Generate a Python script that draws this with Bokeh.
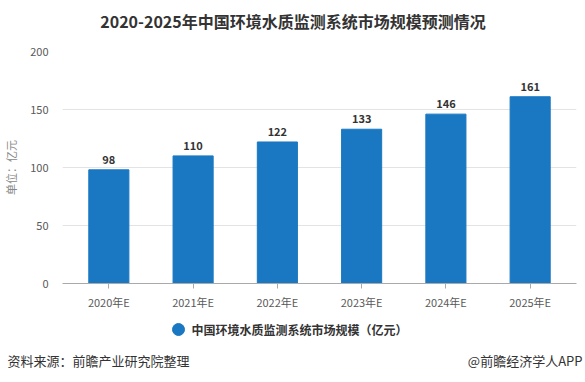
from bokeh.plotting import figure
from bokeh.layouts import column, row
from bokeh.models import ColumnDataSource, FactorRange, Range1d
from bokeh.core.properties import value
from bokeh.embed import file_html
from bokeh.resources import INLINE

years = ["2020年E", "2021年E", "2022年E", "2023年E", "2024年E", "2025年E"]
values = [98, 110, 122, 133, 146, 161]
series_name = "中国环境水质监测系统市场规模（亿元）"
title_text = "2020-2025年中国环境水质监测系统市场规模预测情况"
y_label = "单位：亿元"
source_text = "资料来源：前瞻产业研究院整理"
credit_text = "@前瞻经济学人APP"

FONT = "Noto Sans CJK SC"
BAR = "#1a78c2"
W = 585


def strip(h):
    s = figure(width=W, height=h, output_backend="svg", toolbar_location=None,
               x_range=Range1d(0, W), y_range=Range1d(0, h),
               min_border=0, min_border_left=0, min_border_right=0,
               min_border_top=0, min_border_bottom=0)
    s.axis.visible = False
    s.grid.visible = False
    s.outline_line_color = None
    return s


# title strip
t = strip(40)
t.text(x=[W / 2], y=[20], text=[title_text], text_align="center", text_baseline="middle",
       text_font=value(FONT), text_font_size="16px", text_font_style="bold",
       text_color="#333333")

# main chart
src = ColumnDataSource(dict(x=years, y=values, t=[str(v) for v in values]))
p = figure(x_range=FactorRange(*years, range_padding=0.05, range_padding_units="absolute"),
           y_range=(0, 200),
           frame_width=514, frame_height=232, output_backend="svg", toolbar_location=None,
           min_border_left=62, min_border_right=9, min_border_top=11, min_border_bottom=30)
p.outline_line_color = None

p.vbar(x="x", top="y", width=0.476, source=src, color=BAR)
p.text(x="x", y="y", text="t", source=src, y_offset=-6, text_align="center",
       text_baseline="bottom", text_font=value(FONT), text_font_size="11px",
       text_font_style="bold", text_color="#333333")

p.xgrid.grid_line_color = None
p.ygrid.grid_line_color = "#e3e3e3"
p.yaxis.ticker = [0, 50, 100, 150, 200]
p.yaxis.axis_line_color = None
p.yaxis.major_tick_line_color = None
p.yaxis.minor_tick_line_color = None
p.yaxis.major_label_standoff = 8
p.yaxis.major_label_text_font = FONT
p.yaxis.major_label_text_font_size = "11px"
p.yaxis.major_label_text_color = "#595959"
p.yaxis.axis_label = y_label
p.yaxis.axis_label_text_font = FONT
p.yaxis.axis_label_text_font_size = "11px"
p.yaxis.axis_label_text_font_style = "normal"
p.yaxis.axis_label_text_color = "#888888"
p.yaxis.axis_label_standoff = 8

p.xaxis.axis_line_color = "#aaaaaa"
p.xaxis.major_tick_line_color = "#aaaaaa"
p.xaxis.major_tick_in = 0
p.xaxis.major_tick_out = 5
p.xaxis.major_label_text_font = FONT
p.xaxis.major_label_text_font_size = "11px"
p.xaxis.major_label_text_color = "#595959"

# bottom strip: legend + footer (coordinates = pixels of the strip)
f = strip(66)
f.scatter(x=[178], y=[50], size=12, color=BAR, marker="circle")
f.text(x=[191], y=[50], text=[series_name], text_baseline="middle",
       text_font=value(FONT), text_font_size="12px", text_font_style="bold",
       text_color="#333333")
f.text(x=[7], y=[19], text=[source_text], text_baseline="middle",
       text_font=value(FONT), text_font_size="13px", text_color="#333333")
f.text(x=[582], y=[19], text=[credit_text], text_baseline="middle", text_align="right",
       text_font=value(FONT), text_font_size="13px", text_color="#333333")

layout = column(row(t), p, row(f), spacing=0)
open("out.html", "w").write(file_html(layout, INLINE))
